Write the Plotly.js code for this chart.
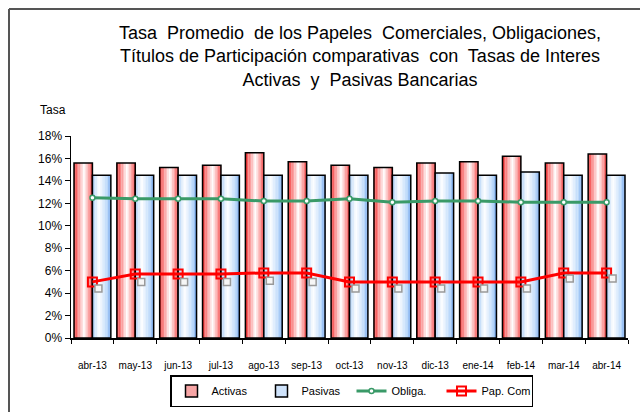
<!DOCTYPE html>
<html>
<head>
<meta charset="utf-8">
<script src="https://cdn.plot.ly/plotly-3.0.1.min.js"></script>
<style>html,body{margin:0;padding:0;background:#fff;}#chart{width:640px;height:412px;}</style>
</head>
<body>
<div id="chart"></div>
<script>
var categories = ["abr-13","may-13","jun-13","jul-13","ago-13","sep-13","oct-13","nov-13","dic-13","ene-14","feb-14","mar-14","abr-14"];
var activas = [0.156,0.156,0.152,0.154,0.165,0.157,0.154,0.152,0.156,0.157,0.162,0.156,0.164];
var pasivas = [0.145,0.145,0.145,0.145,0.145,0.145,0.145,0.145,0.147,0.145,0.148,0.145,0.145];
var obliga  = [0.125,0.124,0.124,0.124,0.122,0.122,0.124,0.121,0.122,0.122,0.121,0.121,0.121];
var papCom  = [0.050,0.057,0.057,0.057,0.058,0.058,0.050,0.050,0.050,0.050,0.050,0.058,0.058];
var titulos = [0.044,0.050,0.050,0.050,0.051,0.050,0.044,0.044,0.044,0.044,0.044,0.053,0.053];
var yTicks = [0,0.02,0.04,0.06,0.08,0.10,0.12,0.14,0.16,0.18];

var FONT = "Liberation Sans, Arial, sans-serif";
var BW = 0.43;      // bar width in category units
var NS = 12;        // gradient slices

function mix(c1, c2, f){ return "rgb(" + [0,1,2].map(function(i){return Math.round(c1[i]+(c2[i]-c1[i])*f);}).join(",") + ")"; }
function grad(stops, t){
  for (var i=0;i<stops.length-1;i++){
    if (t>=stops[i][0] && t<=stops[i+1][0]){
      var f=(t-stops[i][0])/(stops[i+1][0]-stops[i][0]);
      return mix(stops[i][1], stops[i+1][1], f);
    }
  }
  return mix(stops[stops.length-1][1], stops[stops.length-1][1], 0);
}
var redStops  = [[0,[235,30,30]],[0.15,[248,110,110]],[0.55,[255,255,255]],[0.85,[250,140,140]],[1,[235,45,45]]];
var blueStops = [[0,[170,205,245]],[0.35,[255,255,255]],[0.8,[185,215,250]],[1,[105,160,235]]];

var traces = [];
function addBars(vals, off, stops, name, legendColor){
  for (var s=0;s<NS;s++){
    var t=(s+0.5)/NS;
    traces.push({type:"bar", x:categories, y:vals, offset:off + BW*s/NS, width:BW/NS + 0.002,
      marker:{color:grad(stops,t), line:{width:0}}, showlegend:false, hoverinfo:"skip"});
  }
  traces.push({type:"bar", x:categories, y:vals, offset:off, width:BW,
    marker:{color:"rgba(0,0,0,0)", line:{color:"#000", width:1.5}}, showlegend:false, name:name});
  traces.push({type:"bar", x:[categories[0]], y:[null], name:name,
    marker:{color:legendColor, line:{color:"#000", width:1.5}}, showlegend:true});
}
addBars(activas, -BW, redStops, "Activas", "#f7a5a5");
addBars(pasivas, 0, blueStops, "Pasivas", "#cfe3fb");

traces.push({type:"scatter", mode:"markers", x:categories, y:titulos, xaxis:"x2", showlegend:false, name:"Títulos",
  marker:{symbol:"square", size:7, color:"#f6f6f6", line:{color:"#999", width:1.5}}});
traces.push({type:"scatter", mode:"lines+markers", x:categories, y:obliga, name:"Obliga.",
  line:{color:"#3a9a68", width:3}, marker:{symbol:"circle", size:5, color:"#fff", line:{color:"#3a9a68", width:1.5}}});
traces.push({type:"scatter", mode:"lines+markers", x:categories, y:papCom, name:"Pap. Com",
  line:{color:"#ff0000", width:3}, marker:{symbol:"square-open", size:9, color:"#ff0000", line:{width:2}}});
// axis carrying the month labels, lower than the tick marks
traces.push({type:"scatter", mode:"markers", x:categories, y:papCom, xaxis:"x3", showlegend:false,
  marker:{opacity:0}, hoverinfo:"skip"});

var L=71, R=628, T=136, B=338;
function px(x){return (x-L)/(R-L);}
function py(y){return (B-y)/(B-T);}

var layout = {
  width:640, height:412,
  margin:{l:L, r:640-R, t:T, b:412-B, pad:0, autoexpand:false},
  paper_bgcolor:"#fff", plot_bgcolor:"#fff",
  font:{family:FONT, color:"#000"},
  barmode:"overlay",
  title:{text:"Tasa  Promedio  de los Papeles  Comerciales, Obligaciones,<br>Títulos de Participación comparativas  con  Tasas de Interes<br>Activas  y  Pasivas Bancarias",
    font:{family:FONT, size:18, color:"#000"}, xref:"container", yref:"container", x:360/640, xanchor:"center", y:1-39/412, yanchor:"top"},
  xaxis:{type:"category", range:[-0.5,12.5], showline:true, linecolor:"#000", linewidth:1.5,
    ticks:"outside", tickson:"boundaries", ticklen:4, tickcolor:"#000", tickwidth:1,
    showticklabels:false, showgrid:false, zeroline:false, automargin:false},
  xaxis2:{type:"category", overlaying:"x", range:[-0.5-0.14,12.5-0.14], visible:false},
  xaxis3:{type:"category", overlaying:"x", anchor:"y", side:"bottom", range:[-0.5,12.5], showline:false,
    ticks:"outside", ticklen:18, tickcolor:"rgba(0,0,0,0)", tickfont:{family:FONT, size:10},
    showgrid:false, zeroline:false, automargin:false},
  yaxis:{range:[0,0.18], tickvals:yTicks, tickformat:".0%", showline:true, linecolor:"#000", linewidth:1.5,
    ticks:"outside", ticklen:5, tickcolor:"#000", tickfont:{family:FONT, size:12}, showgrid:false, zeroline:false, automargin:false},
  legend:{orientation:"h", x:px(170), xanchor:"left", y:py(375), yanchor:"top",
    bordercolor:"#000", borderwidth:1.5, font:{family:FONT, size:11}, traceorder:"normal",
    itemwidth:30, entrywidth:45, tracegroupgap:0, bgcolor:"#fff"},
  annotations:[{text:"Tasa", xref:"paper", yref:"paper", x:px(53), y:py(110), xanchor:"center", yanchor:"middle",
    showarrow:false, font:{family:FONT, size:12}}],
  shapes:[
    {type:"line", xref:"paper", yref:"paper", x0:px(9), x1:px(9), y0:py(9), y1:py(415), line:{color:"#555", width:2}},
    {type:"line", xref:"paper", yref:"paper", x0:px(9), x1:px(645), y0:py(9), y1:py(9), line:{color:"#555", width:2}}
  ]
};
Plotly.newPlot("chart", traces, layout, {displayModeBar:false, staticPlot:true});
</script>
</body>
</html>
